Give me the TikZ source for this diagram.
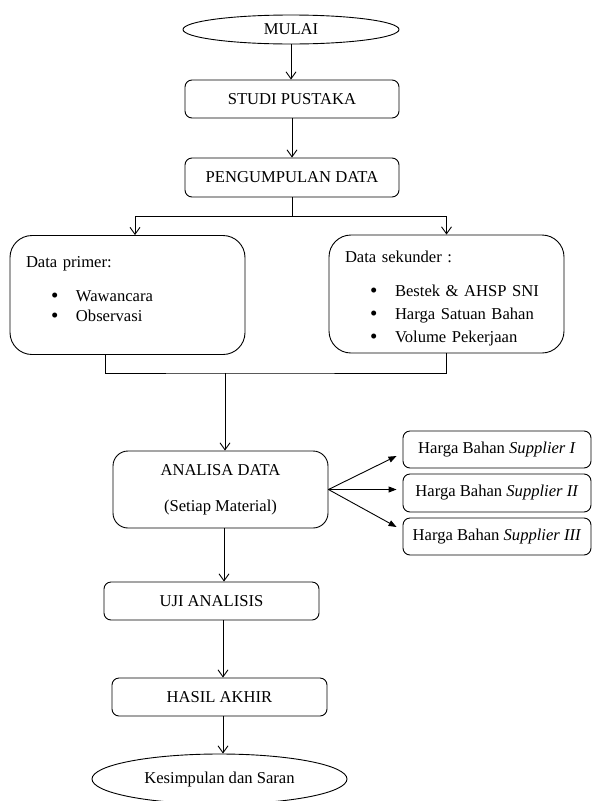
\documentclass[tikz,border=0pt]{standalone}
\usepackage{fontspec}
\setmainfont{Liberation Serif}
\usetikzlibrary{arrows.meta,shapes.geometric}
\newcommand{\listitem}[1]{\makebox[50pt][l]{\hspace*{25pt}\raisebox{-1.2pt}{\fontsize{21}{20}\selectfont\textbullet}}#1}
\tikzset{
  nodebase/.style={
    draw=black,
    text=black,
    line width=0.9pt,
    inner sep=0pt,
    align=center,
    font=\fontsize{16.6}{20}\selectfont
  },
  terminal/.style={nodebase,ellipse},
  process/.style={
    nodebase,
    rounded corners=7pt,
    minimum width=215pt,
    minimum height=38pt
  },
  databox/.style={
    nodebase,
    rounded corners=22pt,
    minimum width=235pt,
    minimum height=119pt,
    text width=203pt,
    inner xsep=16pt,
    align=left
  },
  analysis/.style={
    nodebase,
    rounded corners=15pt,
    minimum width=215pt,
    minimum height=77pt
  },
  supplier/.style={
    nodebase,
    rounded corners=7pt,
    minimum width=188pt,
    minimum height=37pt
  },
  flow/.style={
    -{Straight Barb[length=7pt,width=10pt]},
    draw=black,
    line width=0.9pt
  },
  fanflow/.style={
    -{Triangle[length=8pt,width=6pt]},
    draw=black,
    line width=0.9pt
  },
  mergepath/.style={
    draw=black,
    line width=0.9pt
  }
}

\begin{document}
\begin{tikzpicture}[x=1pt,y=-1pt]
  \useasboundingbox (0,0) rectangle (592,801);

  % Top of the flow.
  \node[terminal,minimum width=216pt,minimum height=29pt] (mulai) at (291,29.5) {MULAI};
  \node[process,minimum width=214pt] (studi) at (292,99) {STUDI PUSTAKA};
  \node[process,minimum width=214pt,minimum height=39pt] (kumpul) at (292,177.5) {PENGUMPULAN DATA};

  % Primary and secondary data.
  \node[databox] (primer) at (127.5,295)
    {Data primer:\\[14pt]\listitem{Wawancara}\\\listitem{Observasi}\rule[-13pt]{0pt}{13pt}};
  \node[databox,minimum height=118pt] (sekunder) at (446.5,294)
    {\rule{0pt}{20pt}Data sekunder :\\[14pt]\listitem{Bestek \& AHSP SNI}\\[3pt]%
     \listitem{Harga Satuan Bahan}\\[3pt]\listitem{Volume Pekerjaan}};

  % Analysis and the three suppliers.
  \node[analysis] (analisa) at (220.5,489.5) {ANALISA DATA\\[16pt](Setiap Material)};
  \node[supplier] (sup1) at (497,449.5) {Harga Bahan \textit{Supplier I}};
  \node[supplier,minimum height=38pt] (sup2) at (497,493) {Harga Bahan \textit{Supplier II}};
  \node[supplier] (sup3) at (497,536.5) {Harga Bahan \textit{Supplier III}};

  % Bottom of the flow.
  \node[process] (uji) at (211.5,601) {UJI ANALISIS};
  \node[process] (hasil) at (219.5,697) {HASIL AKHIR};
  \node[terminal,minimum width=255pt,minimum height=50pt] (selesai) at (219.5,779) {Kesimpulan dan Saran};

  \coordinate (split) at (292,216);
  \coordinate (merge) at (225,373);

  \draw[flow] (mulai.south) -- (mulai.south |- studi.north);
  \draw[flow] (studi) -- (kumpul);
  \draw[mergepath] (kumpul.south) -- (split);
  \draw[flow] (split) -| ([xshift=7.5pt]primer.north);
  \draw[flow] (split) -| (sekunder.north);
  \draw[mergepath] ([xshift=-22.5pt]primer.south) |- (merge) -| (sekunder.south);
  \draw[flow] (merge) -- (merge |- analisa.north);

  \draw[fanflow] (analisa.east) -- ([xshift=-6pt,yshift=-6.5pt]sup1.west);
  \draw[fanflow] (analisa.east) -- ([xshift=-6pt]sup2.west |- analisa.east);
  \draw[fanflow] (analisa.east) -- ([xshift=-6pt,yshift=9.5pt]sup3.west);

  \draw[flow] ([xshift=3.5pt]analisa.south) -- ([xshift=3.5pt]analisa.south |- uji.north);
  \draw[flow] ([xshift=3.5pt]hasil.north |- uji.south) -- ([xshift=3.5pt]hasil.north);
  \draw[flow] ([xshift=3.5pt]hasil.south) -- ([xshift=3.5pt]hasil.south |- selesai.north);
\end{tikzpicture}
\end{document}
